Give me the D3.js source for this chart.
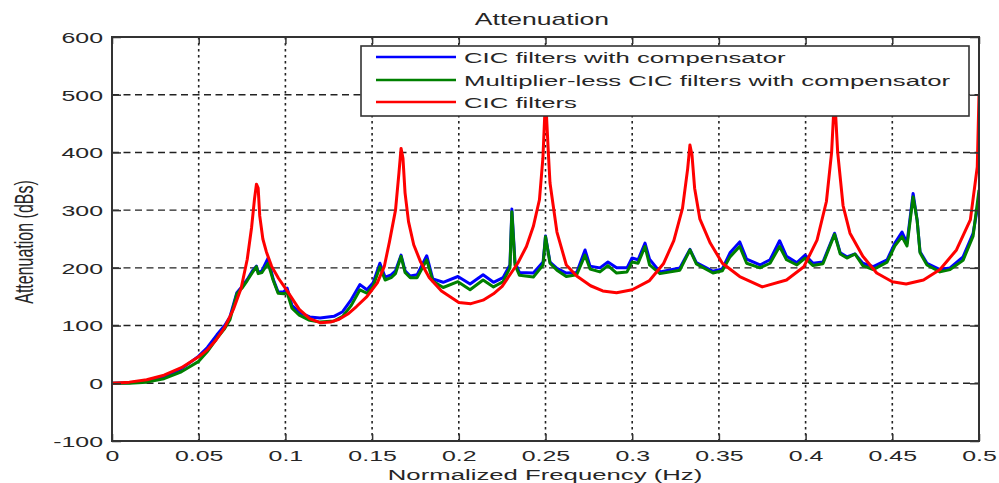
<!DOCTYPE html>
<html><head><meta charset="utf-8">
<script src="https://cdn.jsdelivr.net/npm/d3@7"></script>
<style>body{margin:0;background:#fff}svg{display:block}</style>
</head><body>
<script>
// ---- data ----
const xTicks = [0,0.05,0.1,0.15,0.2,0.25,0.3,0.35,0.4,0.45,0.5];
const xTickLabels = ["0","0.05","0.1","0.15","0.2","0.25","0.3","0.35","0.4","0.45","0.5"];
const yTicks = [-100,0,100,200,300,400,500,600];
const yTickLabels = ["-100","0","100","200","300","400","500","600"];
const seriesNames = ["CIC filters with compensator","Multiplier-less CIC filters with compensator","CIC filters"];

const redF = [0,0.01,0.02,0.03,0.04,0.05,0.055,0.06,0.065,0.07,0.0745,0.078,0.0805,0.0822,0.0833,0.0843,0.0852,0.087,0.089,0.092,0.096,0.101,0.108,0.114,0.12,0.126,0.131,0.136,0.141,0.147,0.153,0.157,0.160,0.1635,0.1655,0.1667,0.1678,0.169,0.171,0.174,0.178,0.183,0.19,0.2,0.207,0.214,0.22,0.225,0.2295,0.234,0.239,0.243,0.2465,0.2485,0.2495,0.25,0.2508,0.2518,0.2526,0.2566,0.262,0.268,0.276,0.283,0.291,0.30,0.31,0.318,0.324,0.329,0.332,0.3333,0.3345,0.336,0.339,0.345,0.352,0.362,0.375,0.389,0.399,0.4066,0.412,0.415,0.4167,0.4185,0.4216,0.4256,0.433,0.441,0.450,0.458,0.468,0.4775,0.487,0.495,0.499,0.5];
const redA = [0,2,6,14,27,46,58,75,97,128,165,215,270,320,345,338,290,250,228,203,182,160,128,112,105,106,111,120,133,150,174,202,245,300,365,407,390,330,280,240,210,183,160,140,138,144,155,168,188,208,237,272,318,390,460,500,450,390,347,262,205,186,169,160,157,162,178,207,247,303,372,413,395,338,285,243,208,185,167,179,202,248,315,400,500,400,308,260,220,191,176,172,179,197,231,283,375,500];

const blueF = [0,0.01,0.02,0.03,0.04,0.05,0.055,0.0605,0.065,0.068,0.072,0.075,0.078,0.081,0.0833,0.0843,0.0865,0.09,0.093,0.0958,0.099,0.101,0.1038,0.108,0.114,0.12,0.128,0.133,0.138,0.143,0.147,0.1506,0.1545,0.1575,0.161,0.1635,0.1667,0.169,0.172,0.176,0.1815,0.185,0.191,0.1995,0.2065,0.214,0.22,0.2255,0.2295,0.2306,0.2324,0.235,0.243,0.2486,0.25,0.2526,0.2566,0.262,0.268,0.2728,0.2757,0.2814,0.286,0.291,0.297,0.2999,0.3034,0.3074,0.310,0.316,0.3275,0.3333,0.337,0.3466,0.352,0.3564,0.362,0.366,0.3737,0.3795,0.385,0.389,0.395,0.3997,0.4043,0.41,0.4167,0.42,0.4238,0.4285,0.433,0.439,0.447,0.4515,0.4556,0.4585,0.462,0.4643,0.466,0.47,0.4775,0.4833,0.4908,0.4966,0.5];
const blueA = [0,1,4,11,25,47,62,84,100,115,157,168,180,195,203,192,195,217,180,158,158,165,135,123,115,113,116,124,145,171,162,174,208,184,188,195,222,195,186,188,221,181,175,185,172,188,175,183,205,302,210,192,191,210,255,210,199,191,192,231,203,200,210,200,200,217,214,243,215,193,200,232,209,194,198,226,245,215,205,214,247,220,209,222,208,210,260,226,219,224,208,202,214,243,262,243,329,283,228,208,197,200,219,260,320];

const greenF = blueF;
const greenA = [0,0,2,8,20,38,55,78,95,110,155,165,178,192,202,190,192,208,178,156,155,157,130,118,109,106,108,116,135,162,156,168,202,179,183,190,220,192,183,183,214,177,166,176,162,179,167,176,200,297,205,187,184,205,254,208,196,185,188,222,198,193,204,191,193,210,208,237,205,190,196,231,207,191,195,219,237,208,200,208,237,214,205,217,204,207,258,224,217,224,204,197,210,238,254,238,323,283,226,205,193,197,213,255,335];

// ---- layout ----
const W = 999, H = 483;
const L = 112, R = 979, T = 37, B = 441;
const SX = 1.66; // horizontal stretch of the source image text
const txtCol = "#262626";

const svg = d3.select("body").append("svg").attr("width", W).attr("height", H);
const x = d3.scaleLinear().domain([0, 0.5]).range([L, R]);
const y = d3.scaleLinear().domain([-100, 600]).range([B, T]);

// grid
const grid = svg.append("g");
grid.selectAll(".vg").data(xTicks.slice(1, -1)).enter().append("line")
  .attr("x1", d => x(d)).attr("x2", d => x(d)).attr("y1", T).attr("y2", B)
  .attr("stroke", "#222").attr("stroke-width", 1.6).attr("stroke-dasharray", "2.5,3.5");
grid.selectAll(".hg").data(yTicks.slice(1, -1)).enter().append("line")
  .attr("x1", L).attr("x2", R).attr("y1", d => y(d)).attr("y2", d => y(d))
  .attr("stroke", "#222").attr("stroke-width", 1.4).attr("stroke-dasharray", "7,4.5");

// lines
svg.append("clipPath").attr("id", "clip").append("rect")
  .attr("x", L).attr("y", T).attr("width", R - L).attr("height", B - T);
const line = d3.line().x(d => x(d[0])).y(d => y(d[1]));
const plots = svg.append("g").attr("clip-path", "url(#clip)");
const zip = (f, a) => f.map((v, i) => [v, a[i]]);
plots.append("path").datum(zip(blueF, blueA)).attr("d", line)
  .attr("fill", "none").attr("stroke", "#0000ff").attr("stroke-width", 3).attr("stroke-linejoin", "round");
plots.append("path").datum(zip(greenF, greenA)).attr("d", line)
  .attr("fill", "none").attr("stroke", "#008000").attr("stroke-width", 3).attr("stroke-linejoin", "round");
plots.append("path").datum(zip(redF, redA)).attr("d", line)
  .attr("fill", "none").attr("stroke", "#ff0000").attr("stroke-width", 3).attr("stroke-linejoin", "round");

// axes (ticks inside)
const xAxis = svg.append("g").attr("transform", `translate(0,${B})`)
  .call(d3.axisBottom(x).tickValues(xTicks).tickFormat((d, i) => xTickLabels[i]).tickSize(-7).tickPadding(0));
xAxis.select(".domain").remove();
xAxis.selectAll("line").attr("stroke", "#333").attr("stroke-width", 1.5);
xAxis.selectAll("text").attr("y", 20).attr("dy", 0)
  .attr("transform", `scale(${SX},1)`).attr("x", 0)
  .style("font-family", "'Liberation Sans', Arial, sans-serif").style("font-size", "15px").attr("fill", txtCol);

const xTop = svg.append("g").attr("transform", `translate(0,${T})`)
  .call(d3.axisTop(x).tickValues(xTicks).tickSize(-7).tickFormat(""));
xTop.select(".domain").remove();
xTop.selectAll("line").attr("stroke", "#333").attr("stroke-width", 1.5);

const yAxis = svg.append("g").attr("transform", `translate(${L},0)`)
  .call(d3.axisLeft(y).tickValues(yTicks).tickFormat((d, i) => yTickLabels[i]).tickSize(-9).tickPadding(0));
yAxis.select(".domain").remove();
yAxis.selectAll("line").attr("stroke", "#333").attr("stroke-width", 1.5);
yAxis.selectAll("text").attr("x", -9 / SX).attr("dy", "0.36em")
  .attr("transform", `scale(${SX},1)`)
  .style("font-family", "'Liberation Sans', Arial, sans-serif").style("font-size", "15px").attr("fill", txtCol);

const yRight = svg.append("g").attr("transform", `translate(${R},0)`)
  .call(d3.axisRight(y).tickValues(yTicks).tickSize(-9).tickFormat(""));
yRight.select(".domain").remove();
yRight.selectAll("line").attr("stroke", "#333").attr("stroke-width", 1.5);

// frame
svg.append("rect").attr("x", L).attr("y", T).attr("width", R - L).attr("height", B - T)
  .attr("fill", "none").attr("stroke", "#333").attr("stroke-width", 2);

// text helper
function label(txt, px, py, size, anchor, rot) {
  svg.append("text")
    .attr("transform", `translate(${px},${py}) scale(${SX},1)` + (rot ? ` rotate(${rot})` : ""))
    .attr("text-anchor", anchor)
    .style("font-family", "'Liberation Sans', Arial, sans-serif")
    .style("font-size", size + "px")
    .attr("fill", txtCol)
    .text(txt);
}
label("Attenuation", 542, 25, 16, "middle");
label("Normalized Frequency (Hz)", 545, 480, 15.5, "middle");
label("Attenuation (dBs)", 33, 242, 16, "middle", -90);

// legend
const lg = svg.append("g");
lg.append("rect").attr("x", 361).attr("y", 46).attr("width", 608).attr("height", 70)
  .attr("fill", "#fff").attr("stroke", "#333").attr("stroke-width", 1.6);
const legCols = ["#0000ff", "#008000", "#ff0000"];
const legY = [57, 80, 102];
seriesNames.forEach((n, i) => {
  lg.append("line").attr("x1", 376).attr("x2", 456).attr("y1", legY[i]).attr("y2", legY[i])
    .attr("stroke", legCols[i]).attr("stroke-width", 2.5);
  label(n, 464, legY[i] + 6, 15.5, "start");
});
</script>
</body></html>
